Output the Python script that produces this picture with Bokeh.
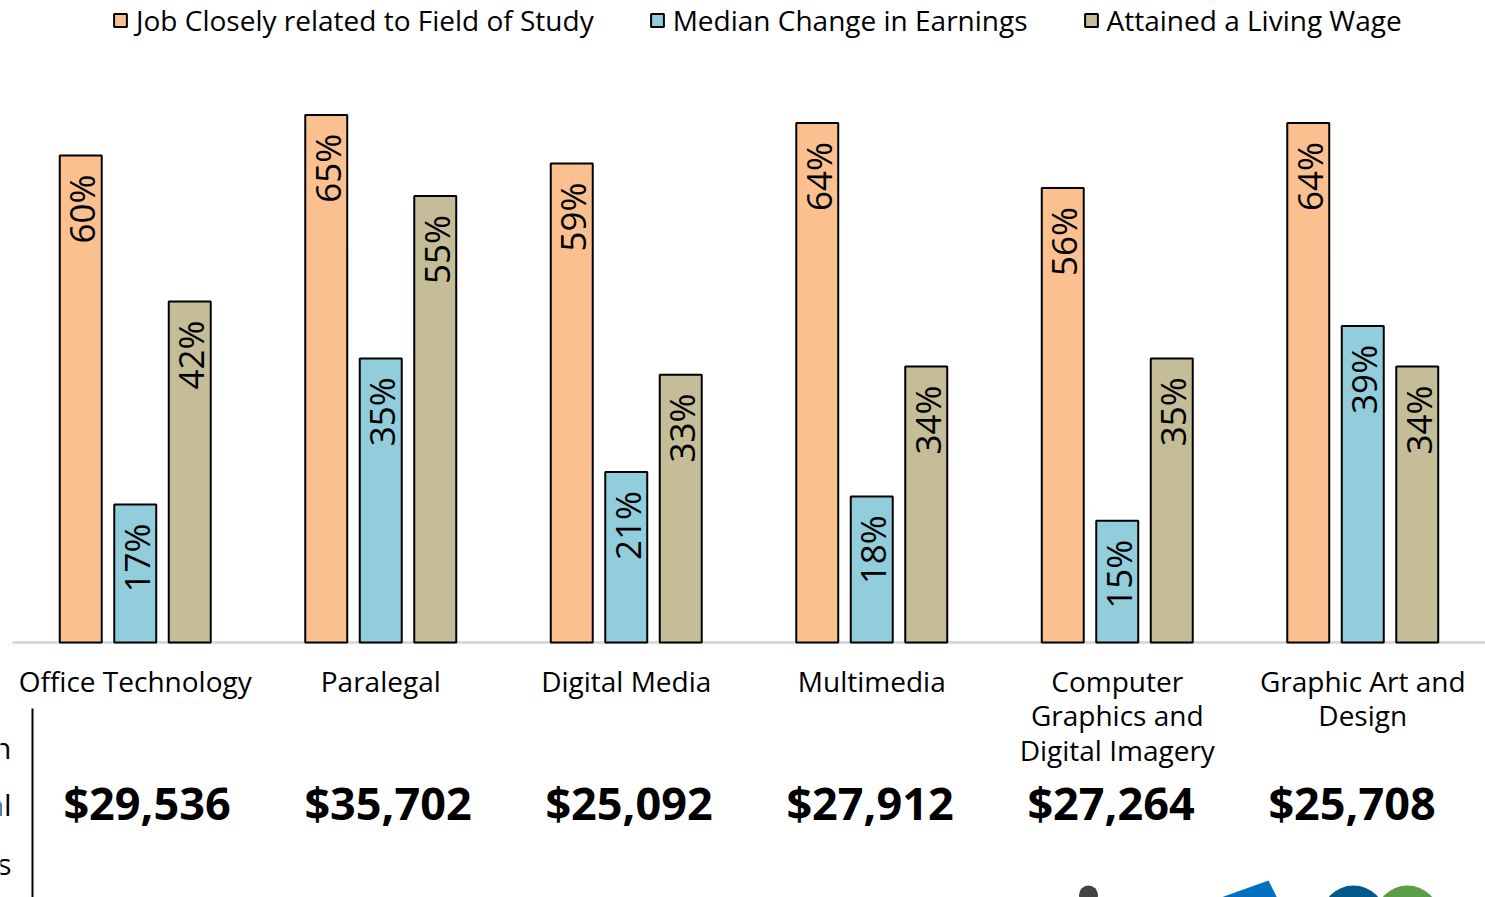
import numpy as np
from bokeh.plotting import figure
from bokeh.models import ColumnDataSource, Range1d, Legend, LegendItem
from bokeh.core.properties import value
from bokeh.embed import file_html
from bokeh.resources import INLINE

# ---------------- data ----------------
categories = ["Office Technology", "Paralegal", "Digital Media", "Multimedia",
              "Computer Graphics and Digital Imagery", "Graphic Art and Design"]
category_labels = ["Office Technology", "Paralegal", "Digital Media", "Multimedia",
                   "Computer\nGraphics and\nDigital Imagery", "Graphic Art and\nDesign"]
job_related = [60, 65, 59, 64, 56, 64]
earnings_change = [17, 35, 21, 18, 15, 39]
living_wage = [42, 55, 33, 34, 35, 34]
median_earnings = [29536, 35702, 25092, 27912, 27264, 25708]
series_names = ["Job Closely related to Field of Study", "Median Change in Earnings",
                "Attained a Living Wage"]
row_title = ["Median", "Annual", "Earnings"]

FONT = "Open Sans"
COL_JOB = "#FAC090"
COL_EARN = "#92CDDC"
COL_WAGE = "#C4BD97"

W, H = 1485, 897
PX_PER_CAT = 245.5       # main scale: pixels per category slot
CAT0_LEFT = 12           # pixel where the first category slot starts
PX_PER_CAT_MONEY = 241.0 # scale of the earnings row
MONEY0_CENTER = 146.5
PX_PER_PCT = 8.117
BASE = 642

y_top = BASE / PX_PER_PCT
y_bot = -(H - BASE) / PX_PER_PCT
x_start = -CAT0_LEFT / PX_PER_CAT
x_end = x_start + W / PX_PER_CAT
m_start = 0.5 - MONEY0_CENTER / PX_PER_CAT_MONEY
m_end = m_start + W / PX_PER_CAT_MONEY

def ydata(py):
    return (BASE - py) / PX_PER_PCT

def xdata(px):
    return x_start + px / PX_PER_CAT

idx = np.arange(len(categories)) + 0.5

src = ColumnDataSource(dict(
    x=idx, cat=categories, label=category_labels,
    job=job_related, earn=earnings_change, wage=living_wage,
    job_t=[f"{v}%" for v in job_related],
    earn_t=[f"{v}%" for v in earnings_change],
    wage_t=[f"{v}%" for v in living_wage],
    money=[f"${v:,}" for v in median_earnings],
))

p = figure(x_range=Range1d(x_start, x_end), y_range=Range1d(y_bot, y_top),
           width=W, height=H, output_backend="svg", toolbar_location=None,
           min_border_left=0, min_border_right=0, min_border_top=0, min_border_bottom=0)
p.extra_x_ranges = {"money": Range1d(m_start, m_end)}
p.axis.visible = False
p.xgrid.visible = False
p.ygrid.visible = False
p.outline_line_color = None
p.background_fill_color = "white"
p.border_fill_color = "white"

# baseline (category axis line)
p.segment(x0=[0], x1=[x_end], y0=[0], y1=[0], line_color="#D9D9D9", line_width=3)

OFF = 0.222
BW = 0.171
src.data["x_job"] = idx - OFF
src.data["x_earn"] = idx
src.data["x_wage"] = idx + OFF

r_job = p.vbar(x="x_job", top="job", width=BW, source=src,
               fill_color=COL_JOB, line_color="black", line_width=2)
r_earn = p.vbar(x="x_earn", top="earn", width=BW, source=src,
                fill_color=COL_EARN, line_color="black", line_width=2)
r_wage = p.vbar(x="x_wage", top="wage", width=BW, source=src,
                fill_color=COL_WAGE, line_color="black", line_width=2)

for xc, col, tcol in [("x_job", "job", "job_t"), ("x_earn", "earn", "earn_t"),
                      ("x_wage", "wage", "wage_t")]:
    p.text(x=xc, y=col, text=tcol, source=src,
           angle=np.pi / 2, text_align="right", text_baseline="middle",
           y_offset=19, x_offset=1, text_font=value(FONT), text_font_size="35px",
           text_color="black")

# category labels
p.text(x="x", y=ydata(661), text="label", source=src, text_align="center",
       text_baseline="top", text_font=value(FONT), text_font_size="28px",
       text_line_height=0.92, text_color="black")

# median earnings row
p.text(x="x", y=ydata(802), text="money", source=src, x_range_name="money",
       text_align="center", text_baseline="middle", text_font=value(FONT),
       text_font_size="45px", text_font_style="bold", text_color="black")

# row title (cut at the left edge) and divider line
p.text(x=[xdata(11)] * 3, y=[ydata(747), ydata(804), ydata(863)], text=row_title,
       text_align="right", text_baseline="alphabetic", text_font=value(FONT),
       text_font_size="30px", text_color="black")
p.segment(x0=[xdata(32)], x1=[xdata(32)], y0=[ydata(708)], y1=[ydata(H + 5)],
          line_color="black", line_width=2)

# logo fragments
p.scatter(x=[xdata(1088)], y=[ydata(894.5)], size=19, marker="circle",
          fill_color="#444444", line_color=None)
p.patch(x=[xdata(1215), xdata(1268), xdata(1276), xdata(1276)],
        y=[ydata(H + 2), ydata(880), ydata(896), ydata(H + 2)],
        fill_color="#0070C0", line_color=None)
p.scatter(x=[xdata(1353)], y=[ydata(917)], size=64, marker="circle",
          fill_color="#005A8C", line_color=None)
p.scatter(x=[xdata(1407)], y=[ydata(917)], size=64, marker="circle",
          fill_color="#5B9D48", line_color=None)

legend = Legend(items=[LegendItem(label=series_names[0], renderers=[r_job]),
                       LegendItem(label=series_names[1], renderers=[r_earn]),
                       LegendItem(label=series_names[2], renderers=[r_wage])],
                orientation="horizontal", location=(112, 858),
                glyph_width=16, glyph_height=16, label_standoff=8, spacing=55,
                padding=0, margin=0, border_line_color=None, background_fill_alpha=0,
                label_text_font=FONT, label_text_font_size="28px",
                label_text_color="black")
p.add_layout(legend)

open("out.html", "w").write(file_html(p, INLINE))
